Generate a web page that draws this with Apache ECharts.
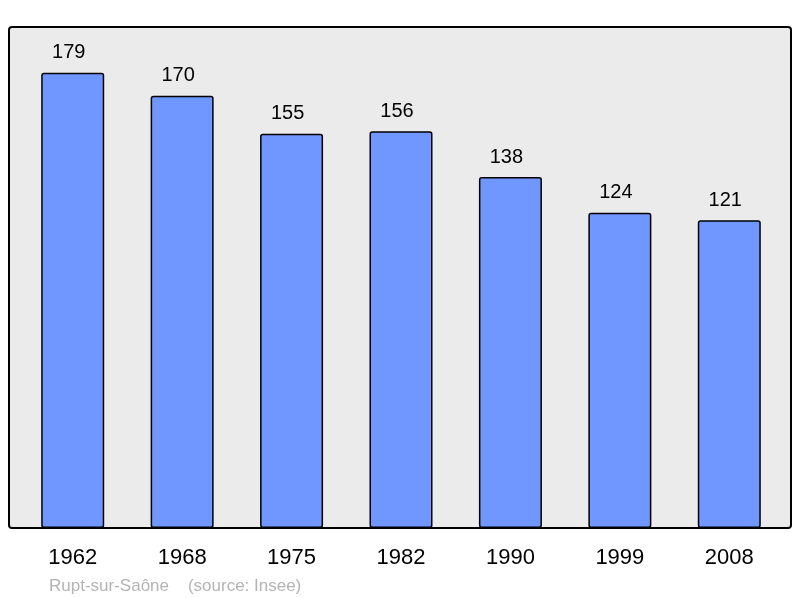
<!DOCTYPE html>
<html><head><meta charset="utf-8">
<script src="https://cdn.jsdelivr.net/npm/echarts@6/dist/echarts.min.js"></script>
<style>html,body{margin:0;padding:0;background:#fff}#c{width:800px;height:598px}</style>
</head><body><div id="c"></div>
<script>
const years = ['1962','1968','1975','1982','1990','1999','2008'];
const population = [179,170,155,156,138,124,121];
const footer = 'Rupt-sur-Saône    (source: Insee)';

const chart = echarts.init(document.getElementById('c'), null, {renderer:'canvas'});
chart.setOption({
  animation:false,
  backgroundColor:'#ffffff',
  title:{text:footer,left:44,top:573,textStyle:{fontFamily:'Liberation Sans',fontSize:17,fontWeight:'normal',color:'#b4b4b4'}},
  graphic:[{type:'rect',z:-10,shape:{x:9,y:27,width:782,height:501,r:3},style:{fill:'#ebebeb',stroke:'#000',lineWidth:2}}],
  grid:{left:18,width:766,top:27,bottom:70,containLabel:false},
  xAxis:{type:'category',data:years,axisLine:{show:false},axisTick:{show:false},
    axisLabel:{fontFamily:'Liberation Sans',fontSize:22,color:'#000',margin:19}},
  yAxis:{type:'value',min:0,max:197,show:false,splitLine:{show:false}},
  series:[{type:'bar',data:population,barWidth:63,
    itemStyle:{color:'#7096ff',borderColor:'#000',borderWidth:1.5,borderRadius:2},
    label:{show:true,position:'top',distance:10,offset:[-4,0],fontFamily:'Liberation Sans',fontSize:20,color:'#000'}}]
});
</script></body></html>
